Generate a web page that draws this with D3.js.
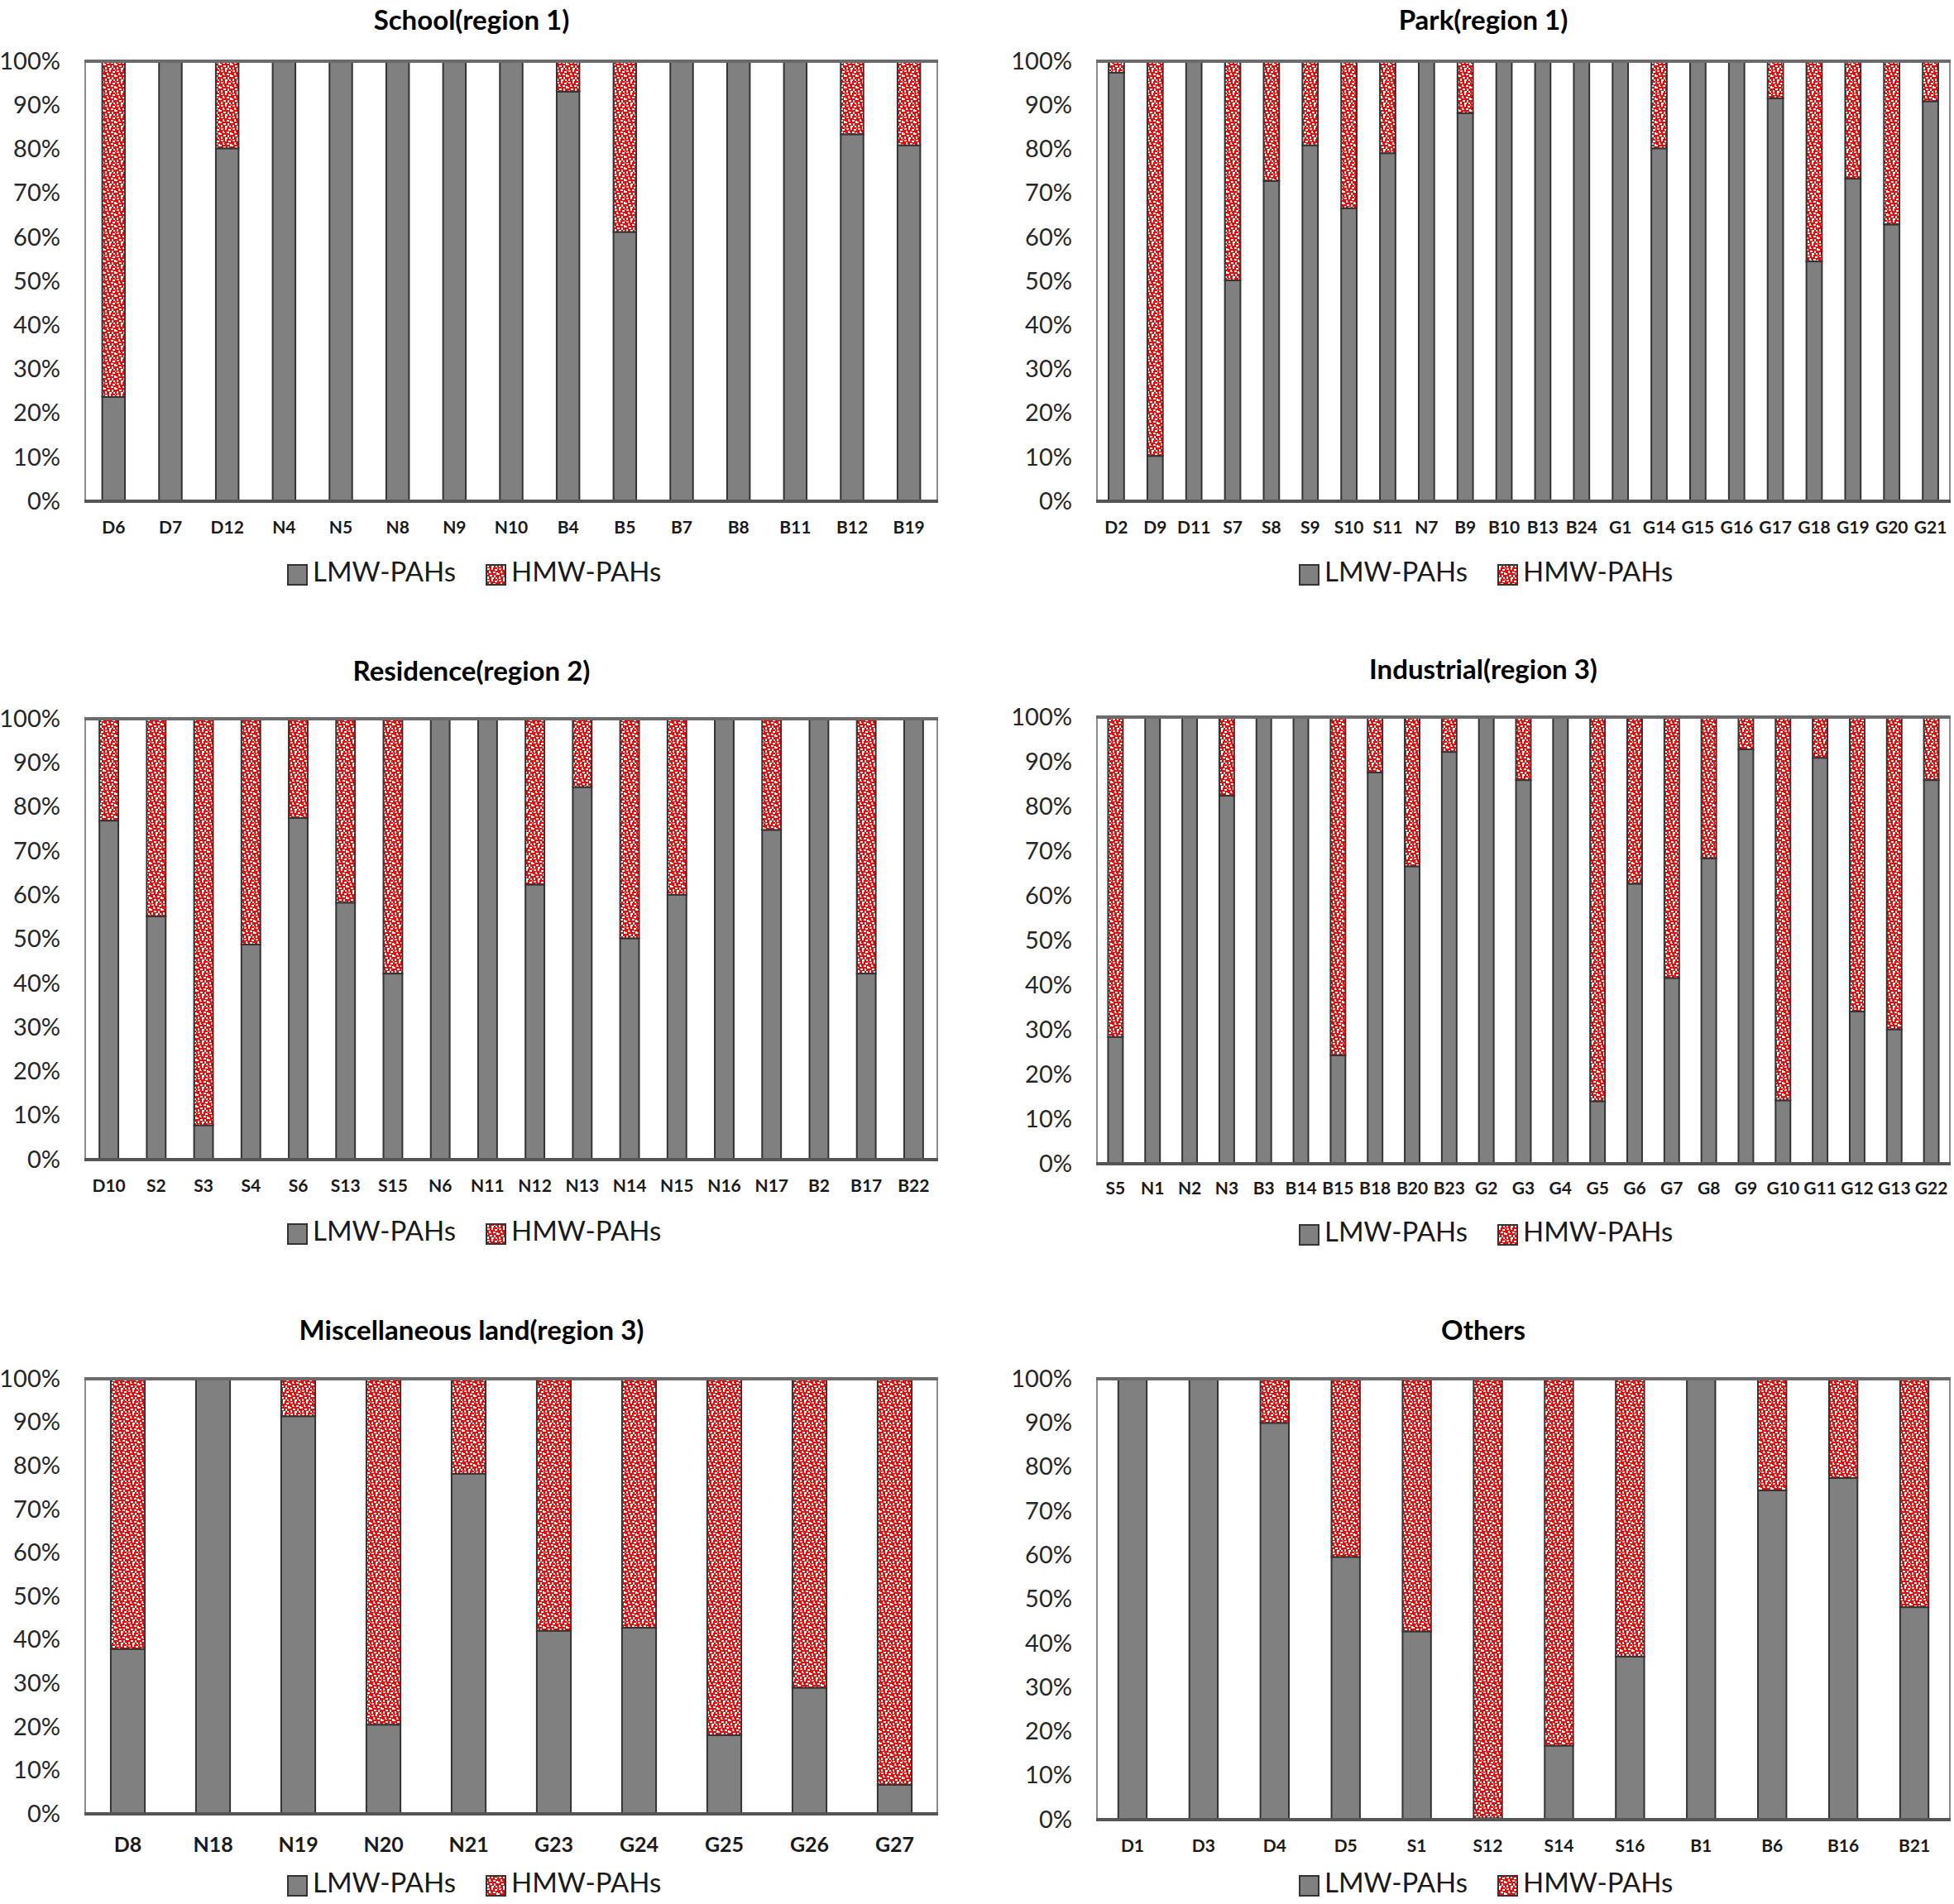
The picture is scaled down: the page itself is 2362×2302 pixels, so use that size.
<!DOCTYPE html>
<html>
<head>
<meta charset="utf-8">
<script src="https://cdn.jsdelivr.net/npm/d3@7/dist/d3.min.js"></script>
<style>
  html, body { margin: 0; padding: 0; background: #fff; }
  svg { display: block; }
</style>
</head>
<body>
<svg id="chart" width="2362" height="2302"></svg>
<script>
// ---------------- DATA ----------------
const seriesNames = ["LMW-PAHs", "HMW-PAHs"];
const yTicks = [0, 10, 20, 30, 40, 50, 60, 70, 80, 90, 100];

const schoolTitle = "School(region 1)";
const schoolCats = ["D6","D7","D12","N4","N5","N8","N9","N10","B4","B5","B7","B8","B11","B12","B19"];
const schoolLMW  = [23.7,100,80.2,100,100,100,100,100,93.1,61.2,100,100,100,83.4,80.9];
const schoolHMW  = [76.3,0,19.8,0,0,0,0,0,6.9,38.8,0,0,0,16.6,19.1];

const parkTitle = "Park(region 1)";
const parkCats = ["D2","D9","D11","S7","S8","S9","S10","S11","N7","B9","B10","B13","B24","G1","G14","G15","G16","G17","G18","G19","G20","G21"];
const parkLMW  = [97.4,10.3,100,50.2,72.8,80.9,66.6,79.1,100,88.2,100,100,100,100,80.2,100,100,91.6,54.5,73.3,62.9,90.9];
const parkHMW  = [2.6,89.7,0,49.8,27.2,19.1,33.4,20.9,0,11.8,0,0,0,0,19.8,0,0,8.4,45.5,26.7,37.1,9.1];

const residenceTitle = "Residence(region 2)";
const residenceCats = ["D10","S2","S3","S4","S6","S13","S15","N6","N11","N12","N13","N14","N15","N16","N17","B2","B17","B22"];
const residenceLMW  = [76.9,55.2,7.8,48.8,77.5,58.3,42.2,100,100,62.4,84.5,50.2,60.1,100,74.8,100,42.2,100];
const residenceHMW  = [23.1,44.8,92.2,51.2,22.5,41.7,57.8,0,0,37.6,15.5,49.8,39.9,0,25.2,0,57.8,0];

const industrialTitle = "Industrial(region 3)";
const industrialCats = ["S5","N1","N2","N3","B3","B14","B15","B18","B20","B23","G2","G3","G4","G5","G6","G7","G8","G9","G10","G11","G12","G13","G22"];
const industrialLMW  = [28.4,100,100,82.4,100,100,24.3,87.6,66.6,92.2,100,85.9,100,14.0,62.7,41.6,68.4,92.8,14.2,90.9,34.1,30.1,85.9];
const industrialHMW  = [71.6,0,0,17.6,0,0,75.7,12.4,33.4,7.8,0,14.1,0,86.0,37.3,58.4,31.6,7.2,85.8,9.1,65.9,69.9,14.1];

const miscTitle = "Miscellaneous land(region 3)";
const miscCats = ["D8","N18","N19","N20","N21","G23","G24","G25","G26","G27"];
const miscLMW  = [37.9,100,91.4,20.5,78.2,42.1,42.8,18.1,29.0,6.7];
const miscHMW  = [62.1,0,8.6,79.5,21.8,57.9,57.2,81.9,71.0,93.3];

const othersTitle = "Others";
const othersCats = ["D1","D3","D4","D5","S1","S12","S14","S16","B1","B6","B16","B21"];
const othersLMW  = [100,100,90.0,59.6,42.7,0.3,16.8,37.0,100,74.7,77.5,48.2];
const othersHMW  = [0,0,10.0,40.4,57.3,99.7,83.2,63.0,0,25.3,22.5,51.8];

// ---------------- LAYOUT ----------------
const FONT = "Lato, 'Open Sans', sans-serif";
const panels = [
  {title: schoolTitle, cats: schoolCats, lmw: schoolLMW, hmw: schoolHMW,
   l: 103, r: 1133, t: 74, b: 606, cx: 570, titleY: 28, xLabY: 640, legY: 695, lab: 21},
  {title: parkTitle, cats: parkCats, lmw: parkLMW, hmw: parkHMW,
   l: 1326, r: 2357, t: 74, b: 606, cx: 1793, titleY: 28, xLabY: 640, legY: 695, lab: 21},
  {title: residenceTitle, cats: residenceCats, lmw: residenceLMW, hmw: residenceHMW,
   l: 103, r: 1133, t: 869, b: 1402, cx: 570, titleY: 815, xLabY: 1436, legY: 1492, lab: 21},
  {title: industrialTitle, cats: industrialCats, lmw: industrialLMW, hmw: industrialHMW,
   l: 1326, r: 2357, t: 867, b: 1407, cx: 1793, titleY: 813, xLabY: 1439, legY: 1493, lab: 21},
  {title: miscTitle, cats: miscCats, lmw: miscLMW, hmw: miscHMW,
   l: 103, r: 1133, t: 1667, b: 2193, cx: 570, titleY: 1612, xLabY: 2233, legY: 2280, lab: 25},
  {title: othersTitle, cats: othersCats, lmw: othersLMW, hmw: othersHMW,
   l: 1326, r: 2357, t: 1667, b: 2200, cx: 1793, titleY: 1612, xLabY: 2234, legY: 2280, lab: 21}
];

const svg = d3.select("#chart");

// speckled red pattern for HMW
const defs = svg.append("defs");
const pat = defs.append("pattern").attr("id", "hmwPat")
  .attr("patternUnits", "userSpaceOnUse").attr("width", 14).attr("height", 14);
pat.append("rect").attr("width", 14).attr("height", 14).attr("fill", "#ff0000");
const specks = [[1,1,3,2],[6,0,2,3],[10,2,3,2],[3,4,2,3],[8,5,3,2],[0,7,2,2],[12,6,2,3],
                [4,9,3,2],[9,9,2,3],[1,11,2,3],[6,12,3,2],[11,12,2,2],[13,0,1,2],[5,6,1,1]];
pat.selectAll("rect.s").data(specks).enter().append("rect").attr("class","s")
  .attr("x", d => d[0]).attr("y", d => d[1]).attr("width", d => d[2]).attr("height", d => d[3])
  .attr("fill", "#ffffff");

const fills = ["#808080", "url(#hmwPat)"];

panels.forEach(p => {
  const g = svg.append("g");
  const rows = p.cats.map((c, i) => ({cat: c, lmw: p.lmw[i], hmw: p.hmw[i]}));
  const stack = d3.stack().keys(["lmw", "hmw"])(rows);

  const x = d3.scaleBand().domain(p.cats).range([p.l, p.r])
    .paddingInner(0.6).paddingOuter(0.3);
  const y = d3.scaleLinear().domain([0, 100]).range([p.b, p.t]);

  // plot area background + frame
  g.append("rect").attr("x", p.l).attr("y", p.t).attr("width", p.r - p.l).attr("height", p.b - p.t)
    .attr("fill", "#fff").attr("stroke", "#8c8c8c").attr("stroke-width", 2);

  // bars
  stack.forEach((layer, k) => {
    g.append("g").selectAll("rect").data(layer.filter(d => d[1] - d[0] > 0)).enter().append("rect")
      .attr("x", d => x(d.data.cat))
      .attr("width", x.bandwidth())
      .attr("y", d => y(d[1]))
      .attr("height", d => y(d[0]) - y(d[1]))
      .attr("fill", fills[k])
      .attr("stroke", "#333333")
      .attr("stroke-width", 2);
  });

  // top frame line
  g.append("line").attr("x1", p.l - 1).attr("x2", p.r + 1).attr("y1", p.t).attr("y2", p.t)
    .attr("stroke", "#6b6b6b").attr("stroke-width", 4);

  // y axis
  const yAxis = d3.axisLeft(y).tickValues(yTicks).tickSize(0).tickPadding(30)
    .tickFormat(d => d + "%");
  const ya = g.append("g").attr("transform", `translate(${p.l},0)`).call(yAxis);
  ya.select(".domain").remove();
  ya.selectAll("text").attr("font-family", FONT).attr("font-size", 29).attr("fill", "#262626");

  // x axis
  const xAxis = d3.axisBottom(x).tickSize(0).tickPadding(0);
  const xa = g.append("g").attr("transform", `translate(0,${p.b})`).call(xAxis);
  xa.select(".domain").attr("stroke", "#555555").attr("stroke-width", 4)
    .attr("d", `M${p.l - 1},0H${p.r + 1}`);
  xa.selectAll("text").attr("font-family", FONT).attr("font-size", p.lab).attr("font-weight", "bold")
    .attr("fill", "#1a1a1a").attr("dy", null).attr("y", p.xLabY - p.b)
    .attr("dominant-baseline", "middle");

  // title
  g.append("text").attr("x", p.cx).attr("y", p.titleY).attr("text-anchor", "middle")
    .attr("dominant-baseline", "middle")
    .attr("font-family", FONT).attr("font-weight", "bold").attr("font-size", 33)
    .attr("fill", "#000").text(p.title);

  // legend
  const leg = g.append("g");
  const items = [{name: seriesNames[0], fill: fills[0], dx: -222},
                 {name: seriesNames[1], fill: fills[1], dx: 18}];
  items.forEach(it => {
    leg.append("rect").attr("x", p.cx + it.dx).attr("y", p.legY - 12).attr("width", 23).attr("height", 24)
      .attr("fill", it.fill).attr("stroke", "#333333").attr("stroke-width", 2);
    leg.append("text").attr("x", p.cx + it.dx + 30).attr("y", p.legY)
      .attr("dominant-baseline", "middle")
      .attr("font-family", FONT).attr("font-size", 33).attr("fill", "#1a1a1a").text(it.name);
  });
});
</script>
</body>
</html>
